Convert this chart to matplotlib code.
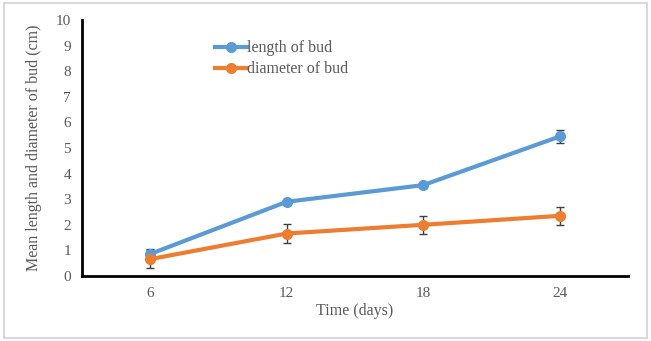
import numpy as np
import matplotlib.pyplot as plt
from matplotlib.patches import Rectangle

plt.rcParams['font.family'] = ['Liberation Serif', 'DejaVu Serif']

# Bud growth over time
days = ["6", "12", "18", "24"]
length_mean = [0.86, 2.90, 3.55, 5.45]
length_err = [0.18, 0.10, 0.10, 0.27]
diameter_mean = [0.66, 1.66, 2.00, 2.35]
diameter_err = [0.36, 0.37, 0.35, 0.35]

blue = "#5b9bd5"
orange = "#ed7d31"
grey = "#595959"

fig = plt.figure(figsize=(6.51, 3.41), dpi=100)
ax = fig.add_axes([82 / 651, 65 / 341, 546 / 651, 256 / 341])

x = np.arange(len(days))
ax.errorbar(x, length_mean, yerr=length_err, color=blue, lw=3, marker="o", ms=7,
            ecolor="#404040", elinewidth=1, capsize=3, capthick=1, label="length of bud")
ax.errorbar(x, diameter_mean, yerr=diameter_err, color=orange, lw=3, marker="o", ms=7,
            ecolor="#404040", elinewidth=1, capsize=3, capthick=1, label="diameter of bud")

ax.set_xlim(-0.5, 3.5)
ax.set_ylim(0, 10)
ax.set_xticks(x)
ax.set_xticklabels(days)
ax.set_yticks(range(0, 11))
ax.tick_params(length=0, labelsize=11, labelcolor=grey, pad=8)
ax.tick_params(axis="x", pad=8)
for s in ["top", "right"]:
    ax.spines[s].set_visible(False)
for s in ["left", "bottom"]:
    ax.spines[s].set_linewidth(2)
    ax.spines[s].set_color("black")

ax.set_xlabel("Time (days)", fontsize=11.5, color=grey, labelpad=2)
ax.set_ylabel("Mean length and diameter of bud (cm)", fontsize=11.5, color=grey, labelpad=10)

handles, labels = ax.get_legend_handles_labels()
handles = [h[0] for h in handles]
ax.legend(handles, labels, loc="upper left", bbox_to_anchor=(0.232, 0.945), frameon=False,
          fontsize=11.5, labelcolor=grey, handlelength=2.0, handletextpad=0.0,
          labelspacing=0.3, borderaxespad=0)

fig.patches.append(Rectangle((4 / 651, 3 / 341), 643 / 651, 335 / 341, transform=fig.transFigure,
                             fill=False, ec="#d9d9d9", lw=1.5))

fig.savefig("out.png", dpi=100)
